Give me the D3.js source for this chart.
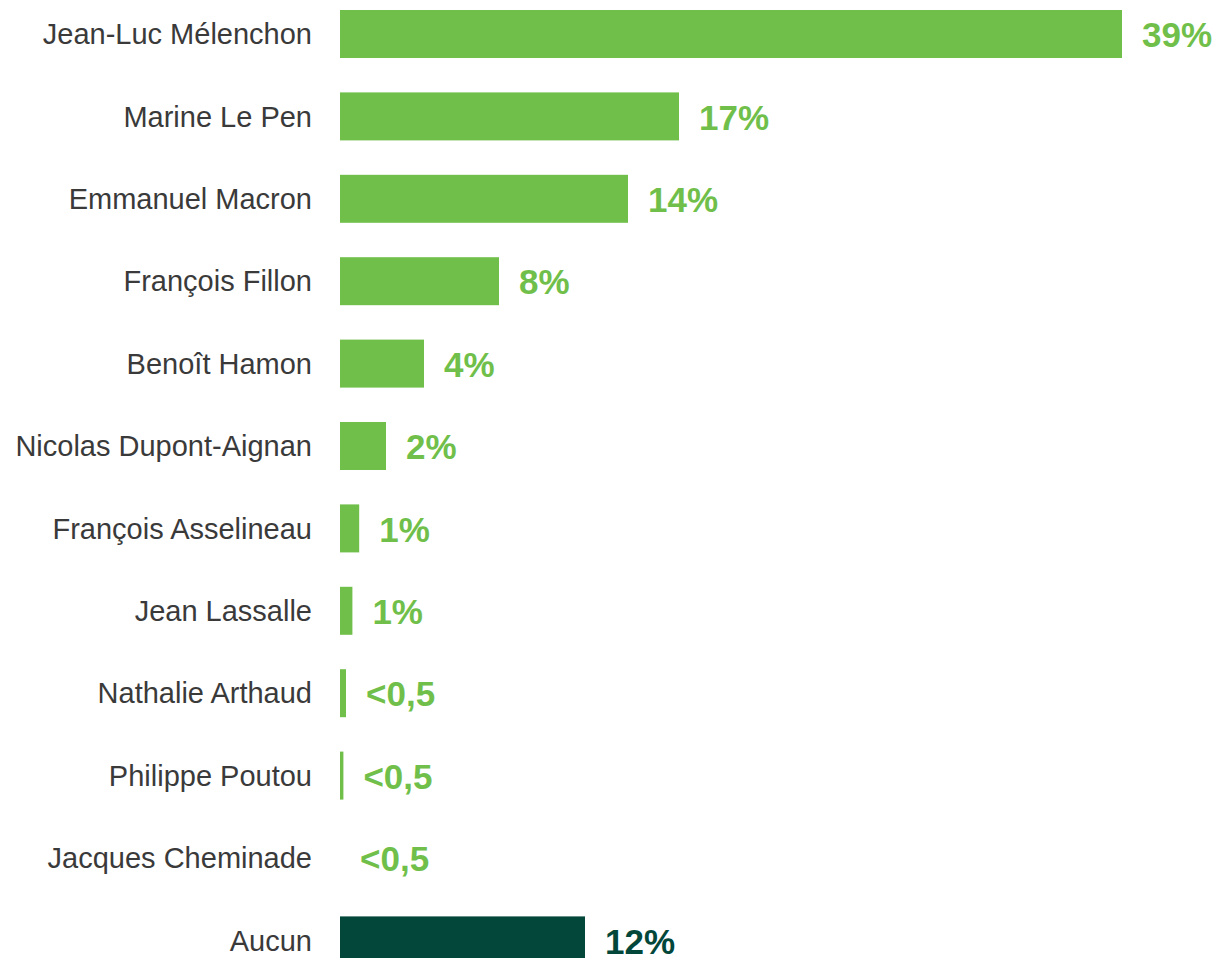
<!DOCTYPE html>
<html>
<head>
<meta charset="utf-8">
<script src="https://cdn.jsdelivr.net/npm/d3@7"></script>
<style>
  body { margin: 0; background: #fff; }
  svg { display: block; }
</style>
</head>
<body>
<div id="chart"></div>
<script>
// data
var candidates = ["Jean-Luc Mélenchon", "Marine Le Pen", "Emmanuel Macron", "François Fillon",
  "Benoît Hamon", "Nicolas Dupont-Aignan", "François Asselineau", "Jean Lassalle",
  "Nathalie Arthaud", "Philippe Poutou", "Jacques Cheminade", "Aucun"];
var shares = [39.1, 16.95, 14.4, 7.95, 4.2, 2.3, 0.96, 0.62, 0.3, 0.17, 0, 12.25];
var shareLabels = ["39%", "17%", "14%", "8%", "4%", "2%", "1%", "1%", "<0,5", "<0,5", "<0,5", "12%"];

var svgWidth = 1221;
var svgHeight = 958;

var green = "#71bf4b";
var darkGreen = "#02473a";

var svg = d3.select("#chart")
  .append("svg")
  .attr("width", svgWidth)
  .attr("height", svgHeight);

var rows = candidates.map(function(c, i) {
  return { name: c, value: shares[i], label: shareLabels[i], none: c === "Aucun" };
});

// x: 20px per percentage point, bars start at 340
var xScale = d3.scaleLinear()
  .domain([0, 40])
  .range([340, 1140]);

var yScale = d3.scaleBand()
  .domain(candidates)
  .range([10, 964.4])
  .paddingInner(0.4175)
  .paddingOuter(0);

var chartGroup = svg.append("g");

chartGroup.selectAll("rect")
  .data(rows)
  .enter()
  .append("rect")
  .attr("x", xScale(0))
  .attr("y", d => yScale(d.name))
  .attr("width", d => xScale(d.value) - xScale(0))
  .attr("height", yScale.bandwidth())
  .attr("fill", d => d.none ? darkGreen : green);

// candidate names on the left
chartGroup.selectAll(".name")
  .data(rows)
  .enter()
  .append("text")
  .attr("class", "name")
  .attr("x", 312)
  .attr("y", d => yScale(d.name) + yScale.bandwidth() / 2)
  .attr("dy", "0.35em")
  .attr("text-anchor", "end")
  .style("font-family", "Arial, 'Liberation Sans', sans-serif")
  .attr("font-size", 29)
  .attr("fill", "#3a3a3a")
  .text(d => d.name);

// value labels
chartGroup.selectAll(".value")
  .data(rows)
  .enter()
  .append("text")
  .attr("class", "value")
  .attr("x", d => xScale(d.value) + 20)
  .attr("y", d => yScale(d.name) + yScale.bandwidth() / 2 + 1)
  .attr("dy", "0.35em")
  .style("font-family", "Arial, 'Liberation Sans', sans-serif")
  .attr("font-weight", "bold")
  .attr("font-size", 35)
  .attr("fill", d => d.none ? darkGreen : green)
  .text(d => d.label);
</script>
</body>
</html>
